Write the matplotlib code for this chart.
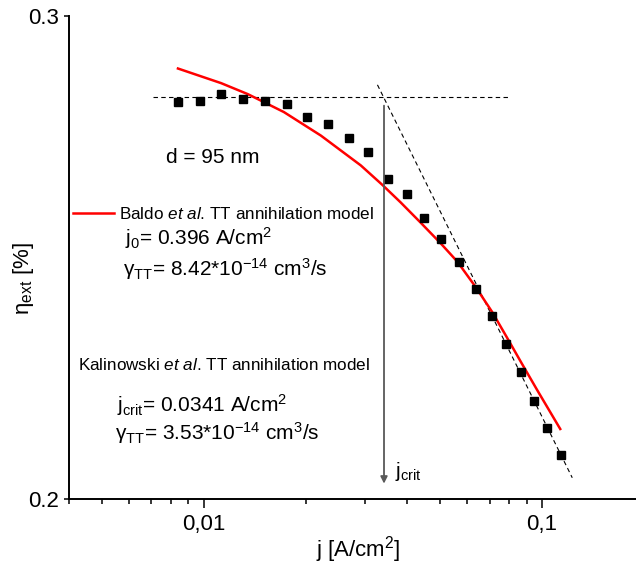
import matplotlib
matplotlib.use("Agg")
import matplotlib.pyplot as plt
from matplotlib.ticker import FixedLocator, NullLocator, FixedFormatter, NullFormatter

plt.rcParams['font.family'] = ['Liberation Sans', 'DejaVu Sans']
plt.rcParams['mathtext.fontset'] = 'custom'
plt.rcParams['mathtext.rm'] = 'Liberation Sans'
plt.rcParams['mathtext.it'] = 'Liberation Sans:italic'

# measured efficiency vs current density
j_data = [0.00838, 0.00973, 0.01127, 0.01309, 0.01517, 0.01758, 0.02013, 0.02333,
          0.02685, 0.03061, 0.03500, 0.03975, 0.04467, 0.05038, 0.05681, 0.06372,
          0.07101, 0.07846, 0.08670, 0.09500, 0.1036, 0.1135]
eta_data = [0.2791, 0.2794, 0.2810, 0.2798, 0.2794, 0.2786, 0.2756, 0.2740,
            0.2708, 0.2675, 0.2616, 0.2584, 0.2531, 0.2488, 0.2440, 0.2385,
            0.2332, 0.2278, 0.2224, 0.2171, 0.2122, 0.2076]

j_baldo = [0.008382, 0.011247, 0.013486, 0.017249, 0.022183, 0.029107, 0.033728,
           0.038202, 0.043752, 0.050235, 0.056148, 0.063560, 0.071193, 0.078813,
           0.087303, 0.096661, 0.113236]
eta_baldo = [0.2870, 0.2835, 0.2809, 0.2767, 0.2713, 0.2646, 0.2603,
             0.2565, 0.2522, 0.2478, 0.2441, 0.2390, 0.2340, 0.2290,
             0.2240, 0.2192, 0.2121]

# Kalinowski asymptotes
j_flat = [0.00707, 0.0797]
eta_flat = [0.2802, 0.2802]
j_slope = [0.03261, 0.1229]
eta_slope = [0.2831, 0.2036]
j_crit = 0.0341
arrow_eta = [0.2782, 0.2026]

fig = plt.figure(figsize=(6.36, 5.67), dpi=100)
ax = fig.add_axes([0.109, 0.1199, 0.891, 0.8524])

ax.plot(j_flat, eta_flat, color='black', lw=0.8, dashes=(4, 3))
ax.plot(j_slope, eta_slope, color='black', lw=0.8, dashes=(4, 3))
ax.plot(j_baldo, eta_baldo, color='#ff0000', lw=1.8)
ax.plot(j_data, eta_data, linestyle='none', marker='s', markersize=6.3, color='black')
ax.annotate('', xy=(j_crit, arrow_eta[1]), xytext=(j_crit, arrow_eta[0]),
            arrowprops=dict(arrowstyle='-|>', color='0.35', lw=1.3,
                            mutation_scale=10, shrinkA=0, shrinkB=0))

ax.set_xscale('log')
ax.set_yscale('log')
ax.set_xlim(0.004, 0.1897)
ax.set_ylim(0.2, 0.3)

ax.xaxis.set_major_locator(FixedLocator([0.01, 0.1]))
ax.xaxis.set_major_formatter(FixedFormatter(['0,01', '0,1']))
ax.xaxis.set_minor_locator(FixedLocator([0.004, 0.005, 0.006, 0.007, 0.008, 0.009,
                                         0.02, 0.03, 0.04, 0.05, 0.06, 0.07, 0.08, 0.09]))
ax.xaxis.set_minor_formatter(NullFormatter())
ax.yaxis.set_major_locator(FixedLocator([0.2, 0.3]))
ax.yaxis.set_major_formatter(FixedFormatter(['0.2', '0.3']))
ax.yaxis.set_minor_locator(NullLocator())

for s in ['top', 'right']:
    ax.spines[s].set_visible(False)
for s in ['left', 'bottom']:
    ax.spines[s].set_linewidth(1.4)

ax.tick_params(axis='x', which='major', length=6.5, width=1.1, pad=4.5, labelsize=16)
ax.tick_params(axis='x', which='minor', length=3.5, width=1.1)
ax.tick_params(axis='y', which='major', length=3.5, width=1.1, pad=4, labelsize=16)

fig.text(0.563, 0.030, 'j [A/cm$^2$]', ha='center', va='center', fontsize=16)
fig.text(0.0377, 0.508, 'η$_{\\mathrm{ext}}$ [%]', ha='center', va='center',
         rotation=90, fontsize=16)

# legend-like labels
ax.plot([0.00706, 0.0789], [0.5928, 0.5928], transform=ax.transAxes,
        color='#ff0000', lw=1.8, clip_on=False)
ax.text(0.0882, 0.5791, 'Baldo $\\mathit{et\\ al}$. TT annihilation model',
        transform=ax.transAxes, fontsize=12.3, va='baseline')
ax.text(0.0983, 0.5259, 'j$_{\\mathrm{0}}$= 0.396 A/cm$^{2}$',
        transform=ax.transAxes, fontsize=15, va='baseline')
ax.text(0.0953, 0.4617, 'γ$_{\\mathrm{TT}}$= 8.42*10$^{-14}$ cm$^{3}$/s',
        transform=ax.transAxes, fontsize=15, va='baseline')
ax.text(0.0159, 0.2671, 'Kalinowski $\\mathit{et\\ al}$. TT annihilation model',
        transform=ax.transAxes, fontsize=12.3, va='baseline')
ax.text(0.0836, 0.1807, 'j$_{\\mathrm{crit}}$= 0.0341 A/cm$^{2}$',
        transform=ax.transAxes, fontsize=15, va='baseline')
ax.text(0.0806, 0.1222, 'γ$_{\\mathrm{TT}}$= 3.53*10$^{-14}$ cm$^{3}$/s',
        transform=ax.transAxes, fontsize=15, va='baseline')
ax.text(0.1706, 0.6957, 'd = 95 nm', transform=ax.transAxes, fontsize=15, va='baseline')
ax.text(0.5747, 0.0455, 'j$_{\\mathrm{crit}}$', transform=ax.transAxes,
        fontsize=15, va='baseline')

fig.savefig('out.png', dpi=100)
